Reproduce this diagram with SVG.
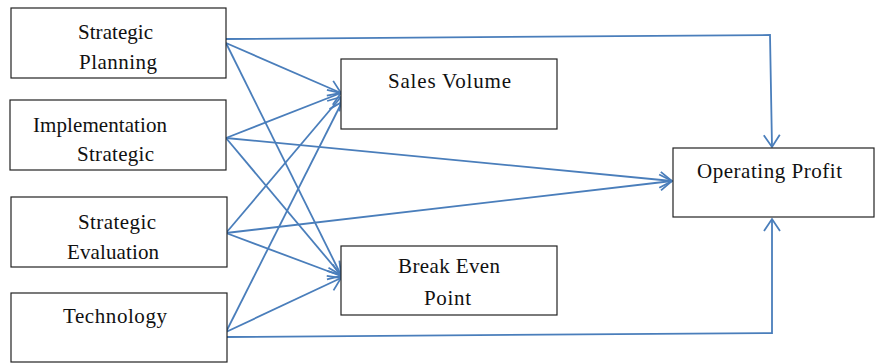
<svg xmlns="http://www.w3.org/2000/svg" width="876" height="364" viewBox="0 0 876 364">
<style>
.box{fill:#fff;stroke:#222;stroke-width:1.2}
.lbl{font-family:'Liberation Serif',serif;font-size:21px;fill:#111}
.edge{fill:none;stroke:#4a7ebb;stroke-width:1.8}
</style>
<defs>
<marker id="arr" markerUnits="userSpaceOnUse" markerWidth="16" markerHeight="20" refX="13" refY="9" orient="auto">
<path d="M1,1 L13,9 L1,17" fill="none" stroke="#4a7ebb" stroke-width="1.8"/>
</marker>
</defs>
<rect width="876" height="364" fill="#fff"/>
<g id="connectors">
<polyline class="edge" points="226,39 770,35 772,147" marker-end="url(#arr)"/>
<polyline class="edge" points="226,337 772,333 772,219" marker-end="url(#arr)"/>
<line class="edge" x1="226" y1="43" x2="341" y2="93" marker-end="url(#arr)"/>
<line class="edge" x1="226" y1="43" x2="341" y2="275" marker-end="url(#arr)"/>
<line class="edge" x1="226" y1="138" x2="341" y2="93" marker-end="url(#arr)"/>
<line class="edge" x1="226" y1="138" x2="672" y2="181" marker-end="url(#arr)"/>
<line class="edge" x1="226" y1="138" x2="341" y2="275" marker-end="url(#arr)"/>
<line class="edge" x1="226" y1="233" x2="341" y2="97" marker-end="url(#arr)"/>
<line class="edge" x1="226" y1="233" x2="672" y2="181" marker-end="url(#arr)"/>
<line class="edge" x1="226" y1="233" x2="341" y2="276" marker-end="url(#arr)"/>
<line class="edge" x1="226" y1="332" x2="342" y2="102" marker-end="url(#arr)"/>
<line class="edge" x1="226" y1="332" x2="341" y2="278" marker-end="url(#arr)"/>
</g>
<g id="strategic-planning">
<rect class="box" x="11" y="8" width="215" height="70"/>
<text class="lbl" x="78" y="39" textLength="75">Strategic</text>
<text class="lbl" x="79" y="69" textLength="78">Planning</text>
</g>
<g id="implementation-strategic">
<rect class="box" x="10" y="100" width="216" height="70"/>
<text class="lbl" x="33" y="132" textLength="134">Implementation</text>
<text class="lbl" x="77" y="161" textLength="77">Strategic</text>
</g>
<g id="strategic-evaluation">
<rect class="box" x="11" y="197" width="216" height="70"/>
<text class="lbl" x="78" y="229" textLength="78">Strategic</text>
<text class="lbl" x="67" y="259" textLength="92">Evaluation</text>
</g>
<g id="technology">
<rect class="box" x="11" y="293" width="216" height="69"/>
<text class="lbl" x="63" y="323" textLength="104">Technology</text>
</g>
<g id="sales-volume">
<rect class="box" x="341" y="59" width="216" height="70"/>
<text class="lbl" x="388" y="88" textLength="123">Sales Volume</text>
</g>
<g id="break-even-point">
<rect class="box" x="341" y="246" width="216" height="69"/>
<text class="lbl" x="398" y="273" textLength="102">Break Even</text>
<text class="lbl" x="424" y="305" textLength="47">Point</text>
</g>
<g id="operating-profit">
<rect class="box" x="673" y="148" width="201" height="69"/>
<text class="lbl" x="697" y="178" textLength="145">Operating Profit</text>
</g>
</svg>
